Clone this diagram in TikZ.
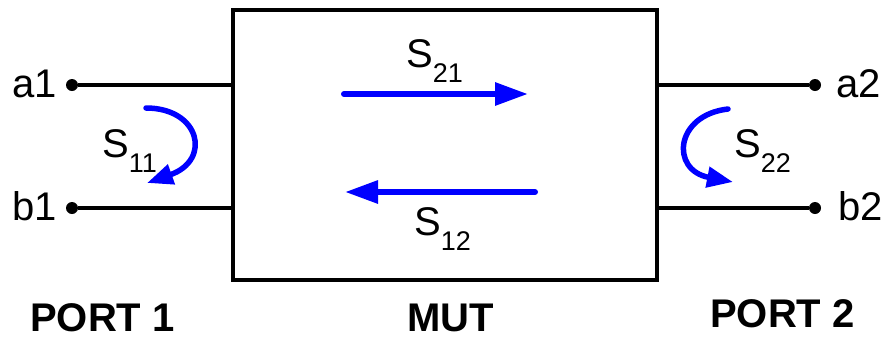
\documentclass[tikz,border=0pt]{standalone}
\usepackage{fontspec}
\setmainfont{Liberation Sans}
\usetikzlibrary{arrows.meta}
\newcommand{\Ssub}[1]{S\raisebox{-15pt}{\fontsize{27}{27}\selectfont #1}}
\tikzset{
  lbl/.style={inner sep=0pt, anchor=base west, font=\fontsize{40}{40}\selectfont},
  portlbl/.style={inner sep=0pt, anchor=base west, font=\fontsize{40}{40}\selectfont\bfseries},
  wire/.style={line width=3.5pt, black},
  term/.style={circle, fill=black, inner sep=0pt, minimum size=12pt},
  sarrow/.style={line width=6pt, blue, line cap=round, -{Triangle[length=33pt,width=22pt]}},
  carrow/.style={line width=5.5pt, blue, line cap=round, -{Triangle[length=26pt,width=20pt]}},
}
\begin{document}
\begin{tikzpicture}[x=1pt,y=-1pt]
\useasboundingbox (0,0) rectangle (887,338);
% MUT box
\node[draw, line width=3.5pt, minimum width=424pt, minimum height=270pt, inner sep=0pt] (mut) at (445,145) {};
% terminals
\node[term] (a1) at (72,85) {};
\node[term] (b1) at (72,208) {};
\node[term] (a2) at (815,85) {};
\node[term] (b2) at (815,208) {};
\coordinate (ma1) at (mut.west |- a1);
\coordinate (mb1) at (mut.west |- b1);
\coordinate (ma2) at (mut.east |- a2);
\coordinate (mb2) at (mut.east |- b2);
\draw[wire] (a1) -- (ma1);
\draw[wire] (b1) -- (mb1);
\draw[wire] (ma2) -- (a2);
\draw[wire] (mb2) -- (b2);
% terminal labels
\node[lbl] (ta1) at (12,97) {a1};
\node[lbl] (tb1) at (12,220) {b1};
\node[lbl] (ta2) at (836,97) {a2};
\node[lbl] (tb2) at (838,220) {b2};
% port labels
\node[portlbl] (p1) at (30,331) {PORT 1};
\node[portlbl] (pm) at (407,331) {MUT};
\node[portlbl] (p2) at (710,327) {PORT 2};
% transmission arrows
\coordinate (s21a) at (344,94);
\coordinate (s21b) at (528,94);
\coordinate (s12a) at (535,192);
\coordinate (s12b) at (345,192);
\draw[sarrow] (s21a) -- (s21b);
\draw[sarrow] (s12a) -- (s12b);
\node[lbl] (l21) at (406,67) {\Ssub{21}};
\node[lbl] (l12) at (414,235) {\Ssub{12}};
% reflection arrows
\coordinate (s11a) at (146,108);
\coordinate (s11b) at (147,183);
\draw[carrow] (s11a) .. controls (200,108) and (212,160) .. (s11b);
\node[lbl] (l11) at (102,157) {\Ssub{11}};
\coordinate (s22a) at (728,109);
\coordinate (s22b) at (733,182);
\draw[carrow] (s22a) .. controls (675,115) and (670,170) .. (s22b);
\node[lbl] (l22) at (734,157) {\Ssub{22}};
\end{tikzpicture}
\end{document}
